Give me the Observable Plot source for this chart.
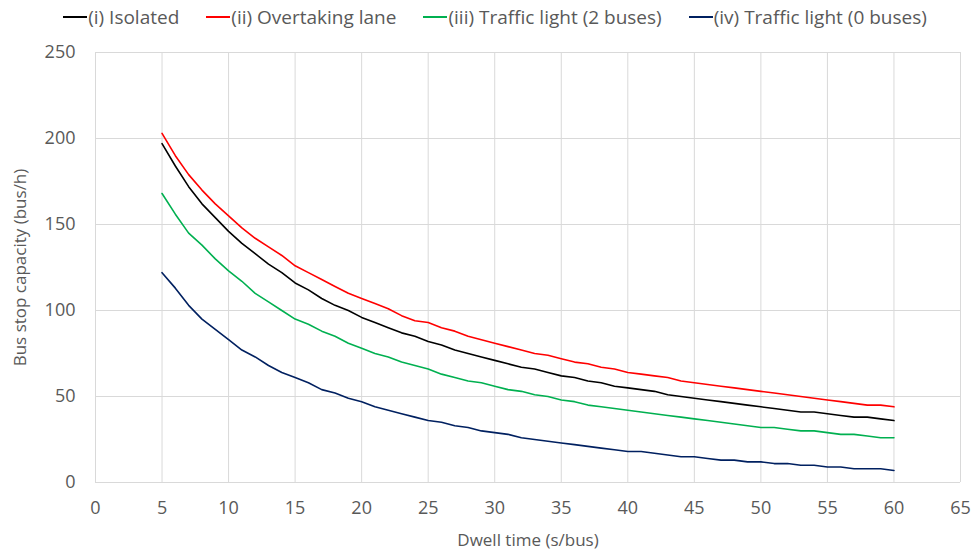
<!DOCTYPE html>
<html>
<head>
<meta charset="utf-8">
<script src="https://cdn.jsdelivr.net/npm/d3@7"></script>
<script src="https://cdn.jsdelivr.net/npm/@observablehq/plot@0.6"></script>
<style>
  html, body { margin: 0; padding: 0; background: #fff; }
  body { width: 972px; height: 554px; overflow: hidden; font-family: "Open Sans", sans-serif; }
  #legend { height: 34px; display: flex; justify-content: center; align-items: center; gap: 27px; font-size: 19px; color: #595959; padding-left: 18px; box-sizing: border-box; }
  .item { display: flex; align-items: center; white-space: nowrap; }
  .sw { width: 24px; height: 2px; margin-right: 1px; }
</style>
</head>
<body>
<div id="legend"></div>
<div id="chart"></div>
<script>
const dwell = d3.range(5, 61);
const seriesNames = ["(i) Isolated", "(ii) Overtaking lane", "(iii) Traffic light (2 buses)", "(iv) Traffic light (0 buses)"];
const seriesColors = ["#000000", "#ff0000", "#00b050", "#002060"];
const isolated = [197,184,172,162,154,146,139,133,127,122,116,112,107,103,100,96,93,90,87,85,82,80,77,75,73,71,69,67,66,64,62,61,59,58,56,55,54,53,51,50,49,48,47,46,45,44,43,42,41,41,40,39,38,38,37,36];
const overtaking = [203,190,179,170,162,155,148,142,137,132,126,122,118,114,110,107,104,101,97,94,93,90,88,85,83,81,79,77,75,74,72,70,69,67,66,64,63,62,61,59,58,57,56,55,54,53,52,51,50,49,48,47,46,45,45,44];
const traffic2 = [168,156,145,138,130,123,117,110,105,100,95,92,88,85,81,78,75,73,70,68,66,63,61,59,58,56,54,53,51,50,48,47,45,44,43,42,41,40,39,38,37,36,35,34,33,32,32,31,30,30,29,28,28,27,26,26];
const traffic0 = [122,113,103,95,89,83,77,73,68,64,61,58,54,52,49,47,44,42,40,38,36,35,33,32,30,29,28,26,25,24,23,22,21,20,19,18,18,17,16,15,15,14,13,13,12,12,11,11,10,10,9,9,8,8,8,7];
const xTicks = d3.range(0, 66, 5);
const yTicks = [0, 50, 100, 150, 200, 250];

const allSeries = [isolated, overtaking, traffic2, traffic0];
const rows = [];
allSeries.forEach((vals, i) => vals.forEach((v, j) => rows.push({series: seriesNames[i], x: dwell[j], y: v})));

const legend = document.getElementById("legend");
seriesNames.forEach((n, i) => {
  const it = document.createElement("div");
  it.className = "item";
  it.innerHTML = `<span class="sw" style="background:${seriesColors[i]}"></span><span>${n}</span>`;
  legend.appendChild(it);
});

const font = '"Open Sans", sans-serif';
const chart = Plot.plot({
  width: 972,
  height: 520,
  marginTop: 18,
  marginBottom: 72,
  marginLeft: 95,
  marginRight: 12,
  style: { fontFamily: font, fontSize: "18px", color: "#595959", background: "#fff" },
  x: { domain: [0, 65] },
  y: { domain: [0, 250] },
  color: { domain: seriesNames, range: seriesColors },
  marks: [
    Plot.gridX(xTicks, { stroke: "#d9d9d9", strokeOpacity: 1 }),
    Plot.gridY(yTicks, { stroke: "#d9d9d9", strokeOpacity: 1 }),
    Plot.axisX(xTicks, { tickSize: 0, tickPadding: 19, label: null, fill: "#595959", fontSize: 18 }),
    Plot.axisY(yTicks, { tickSize: 0, tickPadding: 20, label: null, fill: "#595959", fontSize: 18 }),
    Plot.text(["Dwell time (s/bus)"], { frameAnchor: "bottom", lineAnchor: "middle", dy: 58, fill: "#595959", fontSize: 17 }),
    Plot.text(["Bus stop capacity (bus/h)"], { frameAnchor: "left", textAnchor: "middle", lineAnchor: "middle", dx: -75, rotate: -90, fill: "#595959", fontSize: 17 }),
    Plot.line(rows, { x: "x", y: "y", z: "series", stroke: "series", strokeWidth: 1.6 })
  ]
});
document.getElementById("chart").appendChild(chart);
</script>
</body>
</html>
